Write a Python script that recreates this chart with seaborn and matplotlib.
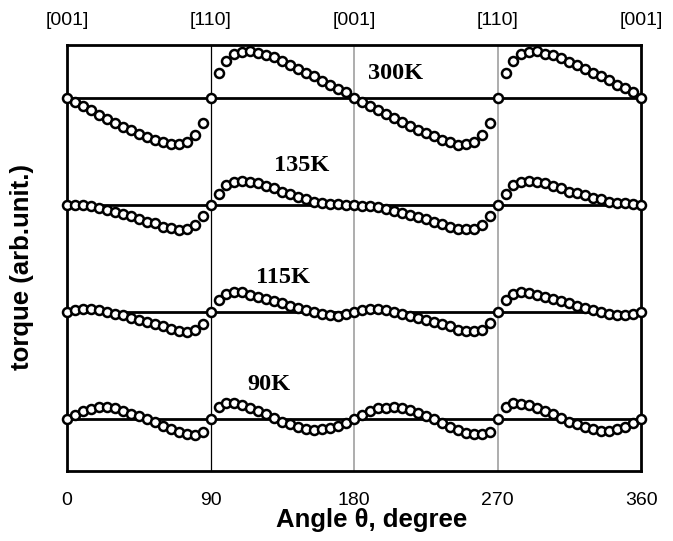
import matplotlib
matplotlib.use("Agg")
import matplotlib.pyplot as plt
import seaborn as sns
import numpy as np
import pandas as pd

angles = np.arange(0, 361, 5)

# torque curves (arb. units); 0 at 0/90/180/270/360
t300 = [0, -13, -24, -35, -50, -63, -75, -87, -97, -108, -117, -125, -132, -138, -139, -133, -110, -75,
        0,
        75, 110, 133, 139, 141, 135, 130, 122, 110, 99, 87, 75, 65, 52, 40, 28, 17,
        0,
        -13, -24, -35, -48, -60, -73, -85, -95, -105, -115, -125, -133, -140, -139, -133, -110, -75,
        0,
        75, 110, 133, 139, 141, 133, 128, 120, 108, 99, 87, 75, 65, 53, 40, 30, 19,
        0]
t135 = [0, 0, -1, -3, -10, -15, -21, -27, -33, -41, -50, -55, -65, -70, -75, -73, -60, -33,
        0,
        33, 60, 70, 73, 70, 65, 57, 50, 40, 33, 25, 17, 10, 7, 3, 2, 0,
        0,
        -2, -3, -7, -12, -18, -25, -30, -35, -43, -50, -57, -65, -71, -73, -71, -60, -33,
        0,
        33, 60, 70, 73, 70, 65, 57, 50, 40, 35, 29, 22, 17, 10, 7, 5, 3,
        0]
t115 = [0, 5, 10, 9, 7, 0, -6, -10, -18, -25, -31, -36, -43, -51, -58, -60, -55, -35,
        0,
        35, 55, 60, 59, 52, 45, 40, 34, 27, 19, 12, 5, -1, -5, -9, -11, -5,
        0,
        5, 9, 9, 5, 0, -5, -11, -18, -25, -31, -36, -43, -53, -58, -58, -53, -33,
        0,
        35, 55, 60, 57, 52, 45, 40, 34, 27, 19, 12, 5, -1, -5, -8, -9, -5,
        0]
t90 = [0, 12, 24, 30, 35, 37, 32, 24, 16, 8, 0, -10, -20, -30, -40, -46, -48, -40,
       0,
       37, 47, 47, 42, 34, 24, 14, 2, -8, -16, -23, -30, -33, -31, -26, -20, -11,
       0,
       12, 24, 32, 34, 37, 32, 27, 17, 9, 0, -13, -23, -33, -43, -46, -46, -38,
       0,
       37, 47, 45, 42, 34, 24, 14, 2, -8, -16, -23, -30, -36, -36, -31, -23, -13,
       0]

temps = ["300K", "135K", "115K", "90K"]
curves = [t300, t135, t115, t90]
offsets = [963, 642, 321, 0]
label_pos = [(206, 1038), (147, 760), (135.5, 424), (126.5, 103)]

xticks = [0, 90, 180, 270, 360]
top_labels = ["[001]", "[110]", "[001]", "[110]", "[001]"]

sns.set_style("white")
plt.rcParams["font.family"] = ["Liberation Sans", "DejaVu Sans"]
plt.rcParams["text.color"] = "black"
plt.rcParams["axes.labelcolor"] = "black"
plt.rcParams["xtick.color"] = "black"

fig = plt.figure(figsize=(6.73, 5.41), dpi=100)
ax = fig.add_axes([0.0996, 0.1294, 0.8529, 0.7874])

# vertical guides
ax.axvline(90, color="black", lw=0.9, zorder=1)
ax.axvline(180, color="#a0a0a0", lw=1.2, zorder=1)
ax.axvline(270, color="#a0a0a0", lw=1.2, zorder=1)

frames = []
for name, vals, off in zip(temps, curves, offsets):
    ax.axhline(off, color="black", lw=2, zorder=2)
    frames.append(pd.DataFrame({"angle": angles, "torque": np.array(vals) + off, "T": name}))
df = pd.concat(frames)

sns.scatterplot(data=df, x="angle", y="torque", ax=ax, marker="o",
                color="white", edgecolor="black", linewidth=1.8, s=42,
                zorder=3, clip_on=False, legend=False)

for name, (lx, ly) in zip(temps, label_pos):
    ax.text(lx, ly, name, ha="center", va="center", fontsize=17.5, fontweight="bold",
            family=["Liberation Serif", "DejaVu Serif"])

for x, lab in zip(xticks, top_labels):
    ax.text(x, 1.057, lab, transform=ax.get_xaxis_transform(), ha="center", va="center",
            fontsize=14)

ax.set_xlim(0, 360)
ax.set_ylim(-156, 1122)
ax.set_xticks(xticks)
ax.set_xticklabels([str(v) for v in xticks], fontsize=14)
ax.set_yticks([])
ax.tick_params(axis="x", length=0, pad=15)
for s in ax.spines.values():
    s.set_color("black")
    s.set_linewidth(2)

ax.set_xlabel("Angle θ, degree", fontsize=18.5, fontweight="bold")
ax.set_ylabel("torque (arb.unit.)", fontsize=18.5, fontweight="bold")
ax.xaxis.set_label_coords(0.53, -0.088)
ax.yaxis.set_label_coords(-0.058, 0.48)

fig.savefig("out.png", dpi=100)
